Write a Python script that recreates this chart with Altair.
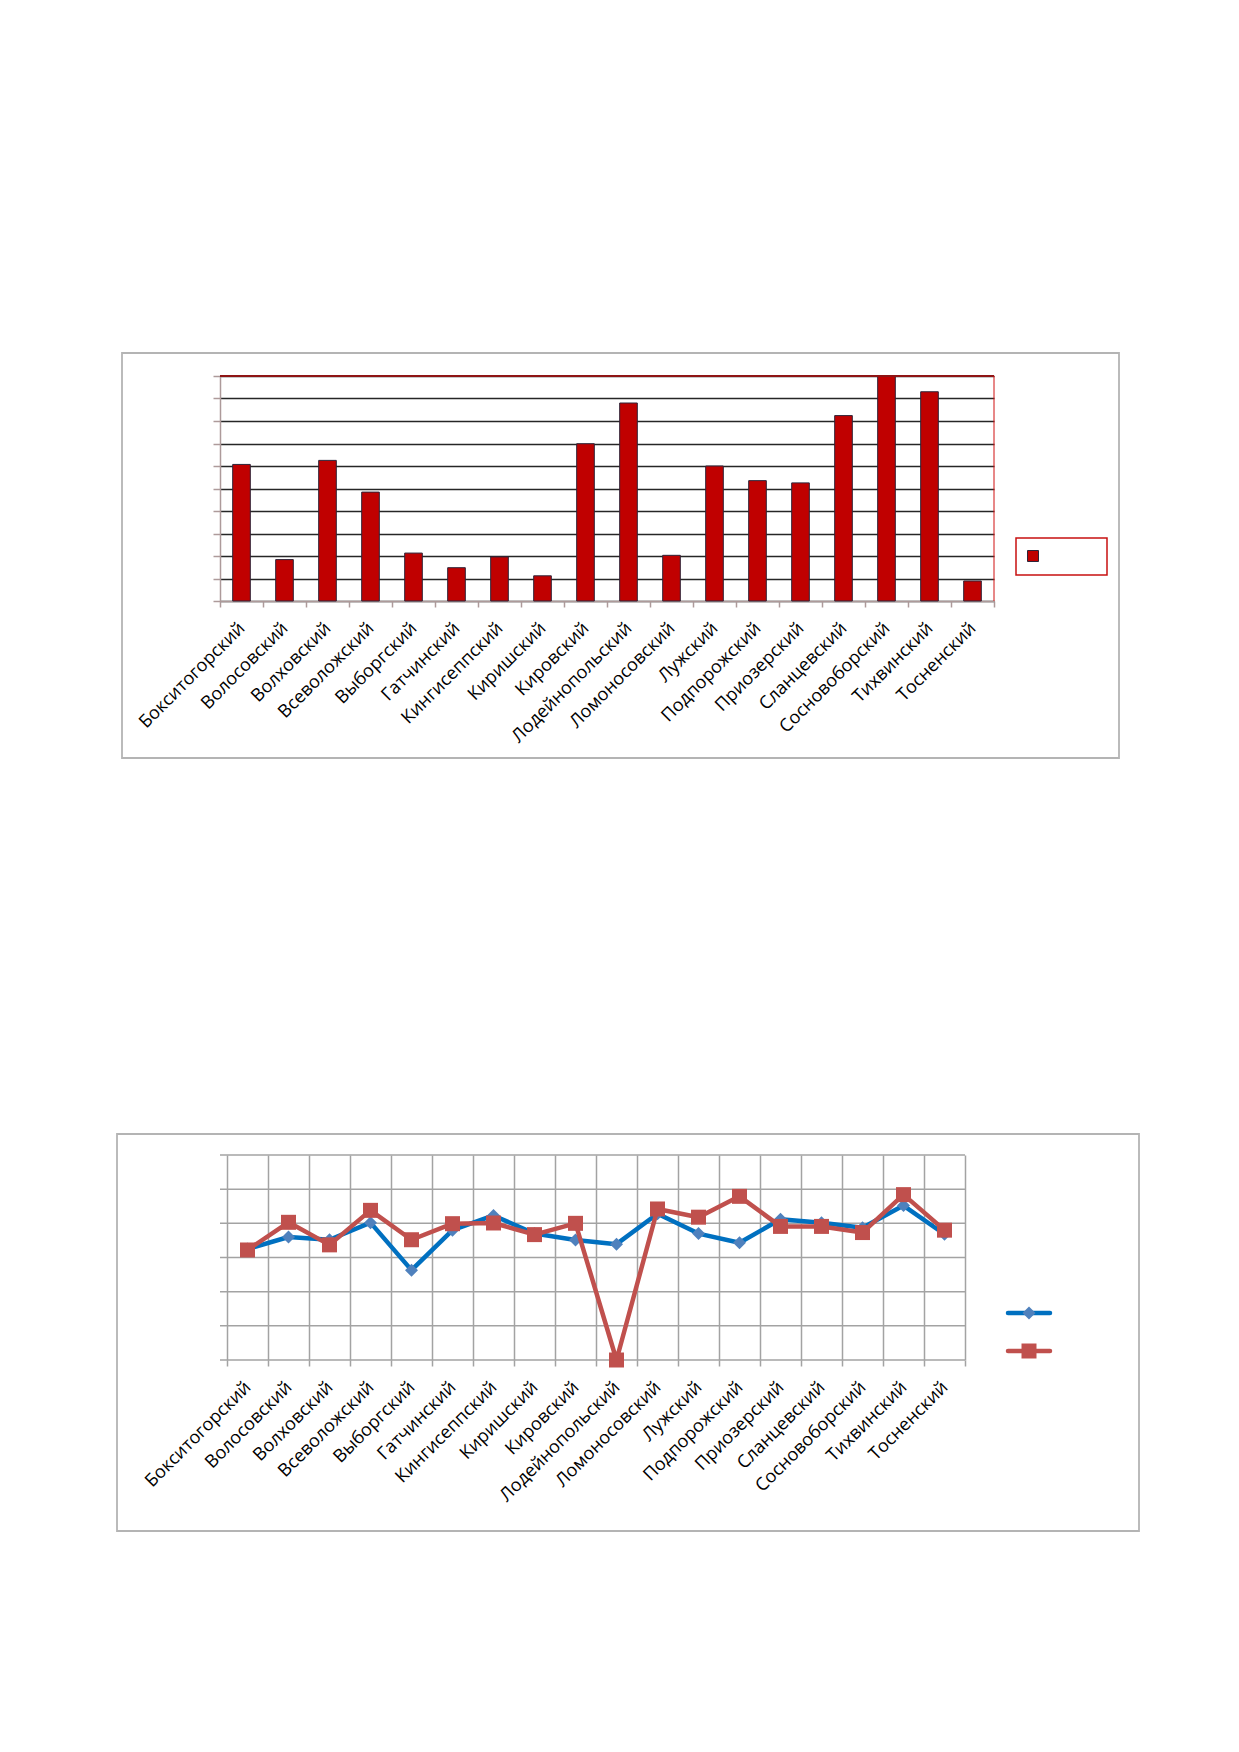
import altair as alt
import pandas as pd

# ---------------- data ----------------
districts = [
    "Бокситогорский", "Волосовский", "Волховский", "Всеволожский", "Выборгский",
    "Гатчинский", "Кингисеппский", "Киришский", "Кировский", "Лодейнопольский",
    "Ломоносовский", "Лужский", "Подпорожский", "Приозерский", "Сланцевский",
    "Сосновоборский", "Тихвинский", "Тосненский",
]
bar_values = [6.07, 1.84, 6.25, 4.84, 2.13, 1.48, 1.96, 1.12, 6.99,
              8.80, 2.03, 6.00, 5.35, 5.25, 8.24, 10.0, 9.30, 0.89]
series_a = [3.25, 3.60, 3.52, 4.02, 2.63, 3.80, 4.23, 3.70, 3.51,
            3.39, 4.28, 3.70, 3.43, 4.12, 4.02, 3.87, 4.52, 3.68]
series_b = [3.22, 4.03, 3.37, 4.38, 3.52, 3.99, 4.01, 3.67, 4.00,
            0.00, 4.42, 4.18, 4.79, 3.91, 3.91, 3.73, 4.84, 3.80]
bar_ticks = [0, 1, 2, 3, 4, 5, 6, 7, 8, 9, 10]
line_ticks = [0, 1, 2, 3, 4, 5, 6]

bars_df = pd.DataFrame({"district": districts, "value": bar_values})
a_df = pd.DataFrame({"district": districts, "value": series_a})
b_df = pd.DataFrame({"district": districts, "value": series_b})
grid2_df = pd.DataFrame({"g": line_ticks})
one = pd.DataFrame({"k": [0]})

# ---------------- styles ----------------
FRAME = "#B4B4B4"
PINK = "#AD9A9A"
BAR = "#C00000"
BAR_EDGE = "#2E2438"
GRID1 = "#262626"
GRID2 = "#A3A3A3"
BLUE_LINE = "#0070C0"
BLUE_MARK = "#4F81BD"
RED = "#C0504D"
FONT = "Open Sans"
FS = 18

W1, H1 = 774, 225
W2, H2 = 745, 205

label_props = dict(
    title=None, labelAngle=-45, labelAlign="right", labelBaseline="top",
    labelPadding=12, labelOffset=-6, labelFont=FONT, labelFontSize=FS,
    labelColor="#000000", labelOverlap=False, labelLimit=300,
)

# ---------------- chart 1 (bars) ----------------
x1_scale = alt.Scale(type="band", paddingInner=0, paddingOuter=0)
x1_axis = alt.Axis(**label_props, tickBand="extent", ticks=True, tickSize=6,
                   tickColor=PINK, tickWidth=1.5, domain=True, domainColor=PINK,
                   domainWidth=1.5, grid=False)
y1_scale = alt.Scale(domain=[0, 10], nice=False, zero=True)
y1_axis = alt.Axis(title=None, labels=False, values=bar_ticks, ticks=True, tickSize=7,
                   tickColor=PINK, tickWidth=1.5, domain=True, domainColor=PINK,
                   domainWidth=1.5, grid=True, gridColor=GRID1, gridWidth=1.3)

frame1 = alt.Chart(one).mark_rect(filled=False, stroke=FRAME, strokeWidth=1.8).encode(
    x=alt.value(-98), x2=alt.value(899), y=alt.value(-23), y2=alt.value(382))
bars = alt.Chart(bars_df).mark_bar(
    width=alt.RelativeBandSize(0.41), color=BAR, stroke=BAR_EDGE, strokeWidth=1
).encode(
    x=alt.X("district:N", sort=districts, scale=x1_scale, axis=x1_axis),
    y=alt.Y("value:Q", scale=y1_scale, axis=y1_axis),
)
top_rule = alt.Chart(one).mark_rule(color="#8E1414", strokeWidth=2).encode(
    y=alt.value(0), x=alt.value(0), x2=alt.value(W1))
right_rule = alt.Chart(one).mark_rule(color="#D01010", strokeWidth=1).encode(
    x=alt.value(W1), y=alt.value(0), y2=alt.value(H1))
leg1_box = alt.Chart(one).mark_rect(filled=False, stroke="#C81010", strokeWidth=1.5).encode(
    x=alt.value(796), x2=alt.value(887), y=alt.value(162), y2=alt.value(199))
leg1_sym = alt.Chart(one).mark_square(size=121, color=BAR, stroke=BAR_EDGE,
                                      strokeWidth=1, opacity=1).encode(
    x=alt.value(813), y=alt.value(180))

chart1 = alt.layer(frame1, bars, top_rule, right_rule, leg1_box, leg1_sym).properties(
    width=W1, height=H1)

# ---------------- chart 2 (lines) ----------------
x2_scale = alt.Scale(type="band", paddingInner=0, paddingOuter=0, range=[7, W2])
x2_axis = alt.Axis(**label_props, tickBand="extent", ticks=True, tickSize=6,
                   tickColor=GRID2, tickWidth=1.5, domain=False, grid=True,
                   gridColor=GRID2, gridWidth=1.5)
y2_scale = alt.Scale(domain=[0, 6], nice=False, zero=True)

x_enc = alt.X("district:N", sort=districts, scale=x2_scale, axis=x2_axis, bandPosition=0.5)
y_enc = alt.Y("value:Q", scale=y2_scale, axis=None)

frame2 = alt.Chart(one).mark_rect(filled=False, stroke=FRAME, strokeWidth=1.8).encode(
    x=alt.value(-103), x2=alt.value(919), y=alt.value(-21), y2=alt.value(376))
hgrid = alt.Chart(grid2_df).mark_rule(color=GRID2, strokeWidth=1.5).encode(
    y=alt.Y("g:Q", scale=y2_scale, axis=None), x=alt.value(0), x2=alt.value(W2))
line_a = alt.Chart(a_df).mark_line(color=BLUE_LINE, strokeWidth=4.5, strokeJoin="round").encode(
    x=x_enc, y=y_enc)
pts_a = alt.Chart(a_df).mark_point(shape="diamond", filled=True, size=169,
                                   color=BLUE_MARK, opacity=1).encode(x=x_enc, y=y_enc)
line_b = alt.Chart(b_df).mark_line(color=RED, strokeWidth=4.5, strokeJoin="round").encode(
    x=x_enc, y=y_enc)
pts_b = alt.Chart(b_df).mark_point(shape="square", filled=True, size=225,
                                   color=RED, opacity=1).encode(x=x_enc, y=y_enc)

leg2_line_a = alt.Chart(one).mark_rule(color=BLUE_LINE, strokeWidth=4.5, strokeCap="round").encode(
    x=alt.value(788), x2=alt.value(830), y=alt.value(158))
leg2_pt_a = alt.Chart(one).mark_point(shape="diamond", filled=True, size=169,
                                      color=BLUE_MARK, opacity=1).encode(
    x=alt.value(809), y=alt.value(158))
leg2_line_b = alt.Chart(one).mark_rule(color=RED, strokeWidth=4.5, strokeCap="round").encode(
    x=alt.value(788), x2=alt.value(830), y=alt.value(196))
leg2_pt_b = alt.Chart(one).mark_point(shape="square", filled=True, size=225,
                                      color=RED, opacity=1).encode(
    x=alt.value(809), y=alt.value(196))

chart2 = alt.layer(frame2, hgrid, line_a, pts_a, line_b, pts_b,
                   leg2_line_a, leg2_pt_a, leg2_line_b, leg2_pt_b).properties(
    width=W2, height=H2)

chart = alt.vconcat(chart1, chart2, spacing=554, bounds="flush").properties(
    padding={"left": 108, "top": 344, "right": 20, "bottom": 20},
    background="#FFFFFF",
).configure_view(strokeWidth=0)

chart.save("out.html", embed_options={"renderer": "svg", "actions": False})
